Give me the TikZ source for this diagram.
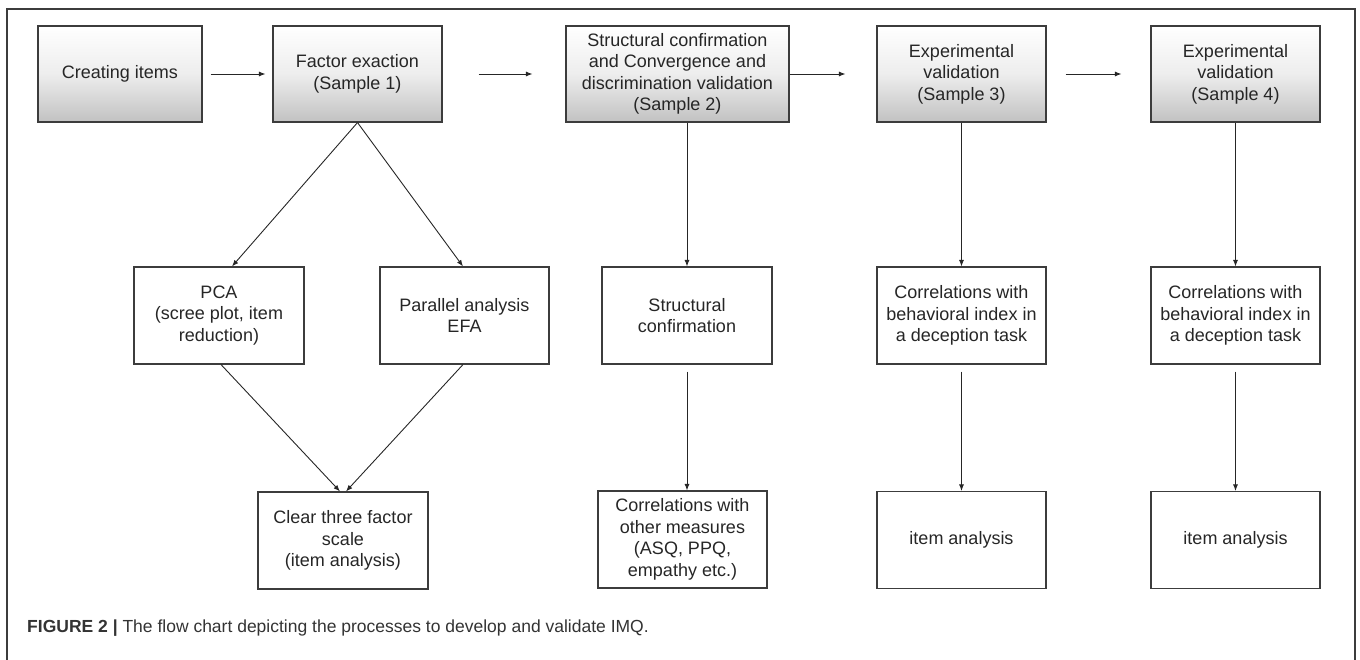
\documentclass[tikz,border=0pt]{standalone}
\usepackage{fontspec}
\setmainfont{Liberation Sans}
\usetikzlibrary{arrows.meta}
\definecolor{edgegray}{HTML}{3C3C3C}
\definecolor{capgray}{HTML}{333333}

\begin{document}
\begin{tikzpicture}[x=1pt,y=-1pt,
    box/.style={draw=edgegray,line width=1.1pt,inner sep=0pt,align=center,
      minimum width=169pt,minimum height=97pt,
      font=\fontsize{18}{21.5}\selectfont,text=black!85},
    topbox/.style={box,minimum height=96pt,top color=white,bottom color=black!24,
      middle color=white!93!black},
    arr/.style={draw=black!85,line width=0.9pt,-{Latex[length=6.5pt,width=5pt]}}]
    \useasboundingbox (0,0) rectangle (1360,660);
    \draw[edgegray,line width=1.2pt] (7,662) -- (7,9) -- (1355,9) -- (1355,662);

    % top row
    \node[topbox,minimum width=164pt] (items) at (120,74) {Creating items};
    \node[topbox] (fac) at (357.5,74) {Factor exaction\\(Sample 1)};
    \node[topbox,minimum width=223pt] (s2) at (677.5,74)
      {Structural confirmation\\and Convergence and\\discrimination validation\\(Sample 2)};
    \node[topbox] (s3) at (961.5,74) {Experimental\\validation\\(Sample 3)};
    \node[topbox] (s4) at (1235.5,74) {Experimental\\validation\\(Sample 4)};

    % middle row
    \node[box,minimum width=170pt] (pca) at (219,315.5) {PCA\\(scree plot, item\\reduction)};
    \node[box] (par) at (464.5,315.5) {Parallel analysis\\EFA};
    \node[box,minimum width=170pt] (conf) at (687,315.5) {Structural\\confirmation};
    \node[box] (cor3) at (961.5,315.5) {Correlations with\\behavioral index in\\a deception task};
    \node[box] (cor4) at (1235.5,315.5) {Correlations with\\behavioral index in\\a deception task};

    % bottom row
    \node[box,minimum width=170pt] (clear) at (343,540.5) {Clear three factor\\scale\\(item analysis)};
    \node[box] (meas) at (682.5,539.5) {Correlations with\\other measures\\(ASQ, PPQ,\\empathy etc.)};
    \node[box] (ia3) at (961.5,540) {item analysis};
    \node[box] (ia4) at (1235.5,540) {item analysis};

    % arrows
    \draw[arr,shorten <=8pt,shorten >=7pt] (items) -- (fac);
    \draw[arr,shorten <=36pt,shorten >=33pt] (fac) -- (s2);
    \draw[arr,shorten >=31pt] (s2.east) -- (s3.west);
    \draw[arr,shorten <=19pt,shorten >=29pt] (s3) -- (s4);

    \draw[arr] (fac.south) -- ([xshift=13pt]pca.north);
    \draw[arr] (fac.south) -- ([xshift=-1.5pt]par.north);
    \draw[arr] ([xshift=2pt]pca.south) -- ([xshift=-3pt]clear.north);
    \draw[arr] ([xshift=-1.5pt]par.south) -- ([xshift=3pt]clear.north);

    \draw[arr] (conf.north |- s2.south) -- (conf.north);
    \draw[arr,shorten <=7pt] (conf.south) -- (conf.south |- meas.north);
    \draw[arr] (s3) -- (cor3);
    \draw[arr,shorten <=7pt] (cor3) -- (ia3);
    \draw[arr] (s4) -- (cor4);
    \draw[arr,shorten <=7pt] (cor4) -- (ia4);

    % caption
    \node[anchor=base west,inner sep=0pt,text=capgray,font=\fontsize{17.5}{21}\selectfont] (cap) at (27,632)
      {\textbf{FIGURE 2 |} The flow chart depicting the processes to develop and validate IMQ.};
\end{tikzpicture}
\end{document}
